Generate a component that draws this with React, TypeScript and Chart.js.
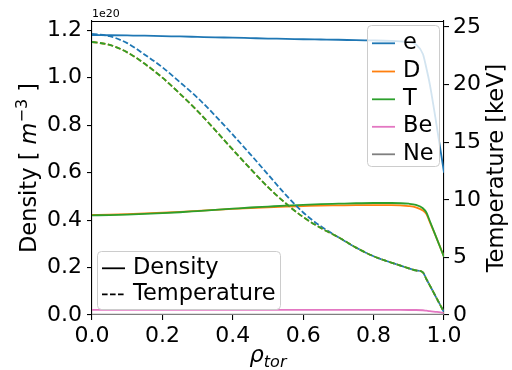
import React, { useEffect, useRef } from 'react';
import { Chart, registerables } from 'chart.js';

Chart.register(...registerables);

// ---------- data ----------
const rho = [0, 0.05, 0.1, 0.15, 0.2, 0.25, 0.3, 0.35, 0.4, 0.45, 0.5, 0.55, 0.6, 0.65, 0.7, 0.75, 0.8, 0.85, 0.9, 0.92, 0.94, 0.95, 0.96, 0.98, 1.0];

// densities in units of 1e20 m^-3
const densE = [1.18, 1.179, 1.178, 1.177, 1.175, 1.174, 1.172, 1.17, 1.169, 1.167, 1.165, 1.164, 1.162, 1.161, 1.16, 1.158, 1.157, 1.155, 1.15, 1.14, 1.1, 1.04, 0.97, 0.79, 0.6];
const densD = [0.422, 0.423, 0.425, 0.428, 0.431, 0.435, 0.439, 0.443, 0.447, 0.451, 0.454, 0.457, 0.459, 0.461, 0.462, 0.463, 0.463, 0.463, 0.459, 0.454, 0.44, 0.425, 0.39, 0.32, 0.245];
const densT = [0.42, 0.421, 0.423, 0.426, 0.429, 0.433, 0.438, 0.443, 0.448, 0.453, 0.457, 0.461, 0.464, 0.467, 0.469, 0.471, 0.472, 0.472, 0.469, 0.464, 0.45, 0.432, 0.395, 0.32, 0.245];
const densBe = [0.022, 0.022, 0.022, 0.022, 0.022, 0.022, 0.022, 0.022, 0.022, 0.022, 0.022, 0.022, 0.022, 0.022, 0.022, 0.022, 0.022, 0.022, 0.021, 0.021, 0.02, 0.018, 0.016, 0.013, 0.009];
const densNe = [0.002, 0.002, 0.002, 0.002, 0.002, 0.002, 0.002, 0.002, 0.002, 0.002, 0.002, 0.002, 0.002, 0.002, 0.002, 0.002, 0.002, 0.002, 0.002, 0.002, 0.002, 0.002, 0.002, 0.001, 0.001];

// temperatures in keV
const tempE = [24.4, 24.2, 23.6, 22.6, 21.5, 20.2, 18.85, 17.3, 15.65, 13.95, 12.2, 10.45, 8.9, 7.7, 6.75, 5.85, 5.1, 4.55, 4.05, 3.87, 3.7, 3.12, 2.55, 1.4, 0.25];
const tempI = [23.7, 23.45, 22.8, 21.8, 20.6, 19.2, 17.7, 16.05, 14.35, 12.7, 11.1, 9.7, 8.5, 7.55, 6.75, 5.85, 5.1, 4.55, 4.05, 3.87, 3.7, 3.12, 2.55, 1.4, 0.25];

const speciesNames = ['e', 'D', 'T', 'Be', 'Ne'];
const speciesColors = ['#1f77b4', '#ff7f0e', '#2ca02c', '#e377c2', '#7f7f7f'];
const styleNames = ['Density', 'Temperature'];

const FONT = '"DejaVu Sans", "Liberation Sans", sans-serif';
const DASH = [5.6, 2.4];

function pts(ys: number[]) {
  return rho.map((x, i) => ({ x, y: ys[i] }));
}

function roundRect(ctx: CanvasRenderingContext2D, x: number, y: number, w: number, h: number, r: number) {
  ctx.beginPath();
  ctx.moveTo(x + r, y);
  ctx.lineTo(x + w - r, y);
  ctx.quadraticCurveTo(x + w, y, x + w, y + r);
  ctx.lineTo(x + w, y + h - r);
  ctx.quadraticCurveTo(x + w, y + h, x + w - r, y + h);
  ctx.lineTo(x + r, y + h);
  ctx.quadraticCurveTo(x, y + h, x, y + h - r);
  ctx.lineTo(x, y + r);
  ctx.quadraticCurveTo(x, y, x + r, y);
  ctx.closePath();
}

type Seg = { t: string; font: string; dy: number };

function drawSegs(ctx: CanvasRenderingContext2D, segs: Seg[]) {
  let total = 0;
  for (const s of segs) {
    ctx.font = s.font;
    total += ctx.measureText(s.t).width;
  }
  let x = -total / 2;
  ctx.textAlign = 'left';
  ctx.textBaseline = 'alphabetic';
  for (const s of segs) {
    ctx.font = s.font;
    ctx.fillText(s.t, x, s.dy);
    x += ctx.measureText(s.t).width;
  }
}

const overlay = {
  id: 'overlay',
  afterDraw(chart: any) {
    const ctx: CanvasRenderingContext2D = chart.ctx;
    const a = chart.chartArea;
    ctx.save();
    // top spine
    ctx.strokeStyle = '#000';
    ctx.lineWidth = 1.1;
    ctx.beginPath();
    ctx.moveTo(a.left, a.top + 0.5);
    ctx.lineTo(a.right, a.top + 0.5);
    ctx.stroke();

    // offset text
    ctx.fillStyle = '#000';
    ctx.font = `11px ${FONT}`;
    ctx.textAlign = 'left';
    ctx.textBaseline = 'alphabetic';
    ctx.fillText('1e20', a.left, 17);

    // species legend (top right)
    ctx.fillStyle = 'rgba(255,255,255,0.8)';
    ctx.strokeStyle = '#cccccc';
    ctx.lineWidth = 1;
    roundRect(ctx, 367.5, 25.5, 72, 141, 4);
    ctx.fill();
    ctx.stroke();
    const rowY = [43.3, 71.5, 99.3, 126.8, 154.3];
    ctx.font = `22.5px ${FONT}`;
    ctx.textBaseline = 'alphabetic';
    speciesNames.forEach((n, i) => {
      ctx.strokeStyle = speciesColors[i];
      ctx.lineWidth = 1.8;
      ctx.setLineDash([]);
      ctx.beginPath();
      ctx.moveTo(372, rowY[i]);
      ctx.lineTo(395, rowY[i]);
      ctx.stroke();
      ctx.fillStyle = '#000';
      ctx.fillText(n, 403, rowY[i] + 5.5);
    });

    // style legend (bottom left)
    ctx.fillStyle = 'rgba(255,255,255,0.8)';
    ctx.strokeStyle = '#cccccc';
    ctx.lineWidth = 1;
    roundRect(ctx, 97.5, 251.5, 183, 58, 4);
    ctx.fill();
    ctx.stroke();
    const rowY2 = [268.3, 294.3];
    styleNames.forEach((n, i) => {
      ctx.strokeStyle = '#000';
      ctx.lineWidth = 1.8;
      ctx.setLineDash(i === 1 ? DASH : []);
      ctx.beginPath();
      ctx.moveTo(102, rowY2[i]);
      ctx.lineTo(125, rowY2[i]);
      ctx.stroke();
      ctx.setLineDash([]);
      ctx.fillStyle = '#000';
      ctx.font = `22.5px ${FONT}`;
      ctx.fillText(n, 133, rowY2[i] + 5.5);
    });

    // axis titles
    ctx.fillStyle = '#000';
    const cy = (a.top + a.bottom) / 2;
    // left
    ctx.save();
    ctx.translate(36, cy);
    ctx.rotate(-Math.PI / 2);
    drawSegs(ctx, [
      { t: 'Density [ ', font: `22.5px ${FONT}`, dy: 0 },
      { t: 'm', font: `italic 22.5px ${FONT}`, dy: 0 },
      { t: '\u22123', font: `16px ${FONT}`, dy: -9 },
      { t: ' ]', font: `22.5px ${FONT}`, dy: 0 },
    ]);
    ctx.restore();
    // right
    ctx.save();
    ctx.translate(503, cy);
    ctx.rotate(-Math.PI / 2);
    drawSegs(ctx, [{ t: 'Temperature [keV]', font: `22.5px ${FONT}`, dy: 0 }]);
    ctx.restore();
    // bottom
    ctx.save();
    ctx.translate((a.left + a.right) / 2, 361.5);
    drawSegs(ctx, [
      { t: '\u03c1', font: `italic 22.5px ${FONT}`, dy: 0 },
      { t: 'tor', font: `italic 16px ${FONT}`, dy: 5 },
    ]);
    ctx.restore();

    ctx.restore();
  },
};

export default function App() {
  const ref = useRef<HTMLCanvasElement>(null);

  useEffect(() => {
    document.body.style.margin = '0';
    const canvas = ref.current;
    if (!canvas) return;

    const densSets = [densE, densD, densT, densBe, densNe].map((d, i) => ({
      label: speciesNames[i] + ' density',
      data: pts(d),
      borderColor: speciesColors[i],
      backgroundColor: speciesColors[i],
      borderWidth: 1.8,
      pointRadius: 0,
      fill: false,
      yAxisID: 'y',
      cubicInterpolationMode: 'monotone' as const,
      order: 8 - i,
    }));
    const tempSets = [tempE, tempI, tempI].map((d, i) => ({
      label: speciesNames[i] + ' temperature',
      data: pts(d),
      borderColor: speciesColors[i],
      backgroundColor: speciesColors[i],
      borderWidth: 1.8,
      borderDash: DASH,
      pointRadius: 0,
      fill: false,
      yAxisID: 'y2',
      cubicInterpolationMode: 'monotone' as const,
      order: 3 - i,
    }));

    const tickFont = { family: FONT, size: 22 };
    const grid = { drawOnChartArea: false, drawTicks: true, tickLength: 5, color: '#000', tickColor: '#000', lineWidth: 1.1 };
    const border = { display: true, color: '#000', width: 1.1 };

    const chart = new Chart(canvas, {
      type: 'line',
      data: { datasets: [...densSets, ...tempSets] as any },
      options: {
        animation: false,
        responsive: false,
        devicePixelRatio: 1,
        layout: { padding: { top: 21, left: 0, right: 0, bottom: 0 } },
        plugins: { legend: { display: false }, tooltip: { enabled: false } },
        scales: {
          x: {
            type: 'linear',
            position: 'bottom',
            min: 0,
            max: 1,
            ticks: {
              stepSize: 0.2,
              includeBounds: false,
              autoSkip: false,
              maxRotation: 0,
              padding: 3,
              color: '#000',
              font: tickFont,
              callback: (v: any) => Number(v).toFixed(1),
            },
            grid,
            border,
            afterFit: (s: any) => { s.height = 55; },
          },
          y: {
            type: 'linear',
            position: 'left',
            min: 0,
            max: 1.239,
            ticks: {
              stepSize: 0.2,
              includeBounds: false,
              autoSkip: false,
              padding: 5,
              color: '#000',
              font: tickFont,
              callback: (v: any) => Number(v).toFixed(1),
            },
            grid,
            border,
            afterFit: (s: any) => { s.width = 92; },
          },
          y2: {
            type: 'linear',
            position: 'right',
            min: 0,
            max: 25.52,
            ticks: {
              stepSize: 5,
              includeBounds: false,
              autoSkip: false,
              padding: 4,
              color: '#000',
              font: tickFont,
              callback: (v: any) => String(Math.round(Number(v))),
            },
            grid,
            border,
            afterFit: (s: any) => { s.width = 68; },
          },
        },
      } as any,
      plugins: [overlay],
    });

    return () => chart.destroy();
  }, []);

  return <canvas ref={ref} width={512} height={370} style={{ display: 'block', width: 512, height: 370 }} />;
}
